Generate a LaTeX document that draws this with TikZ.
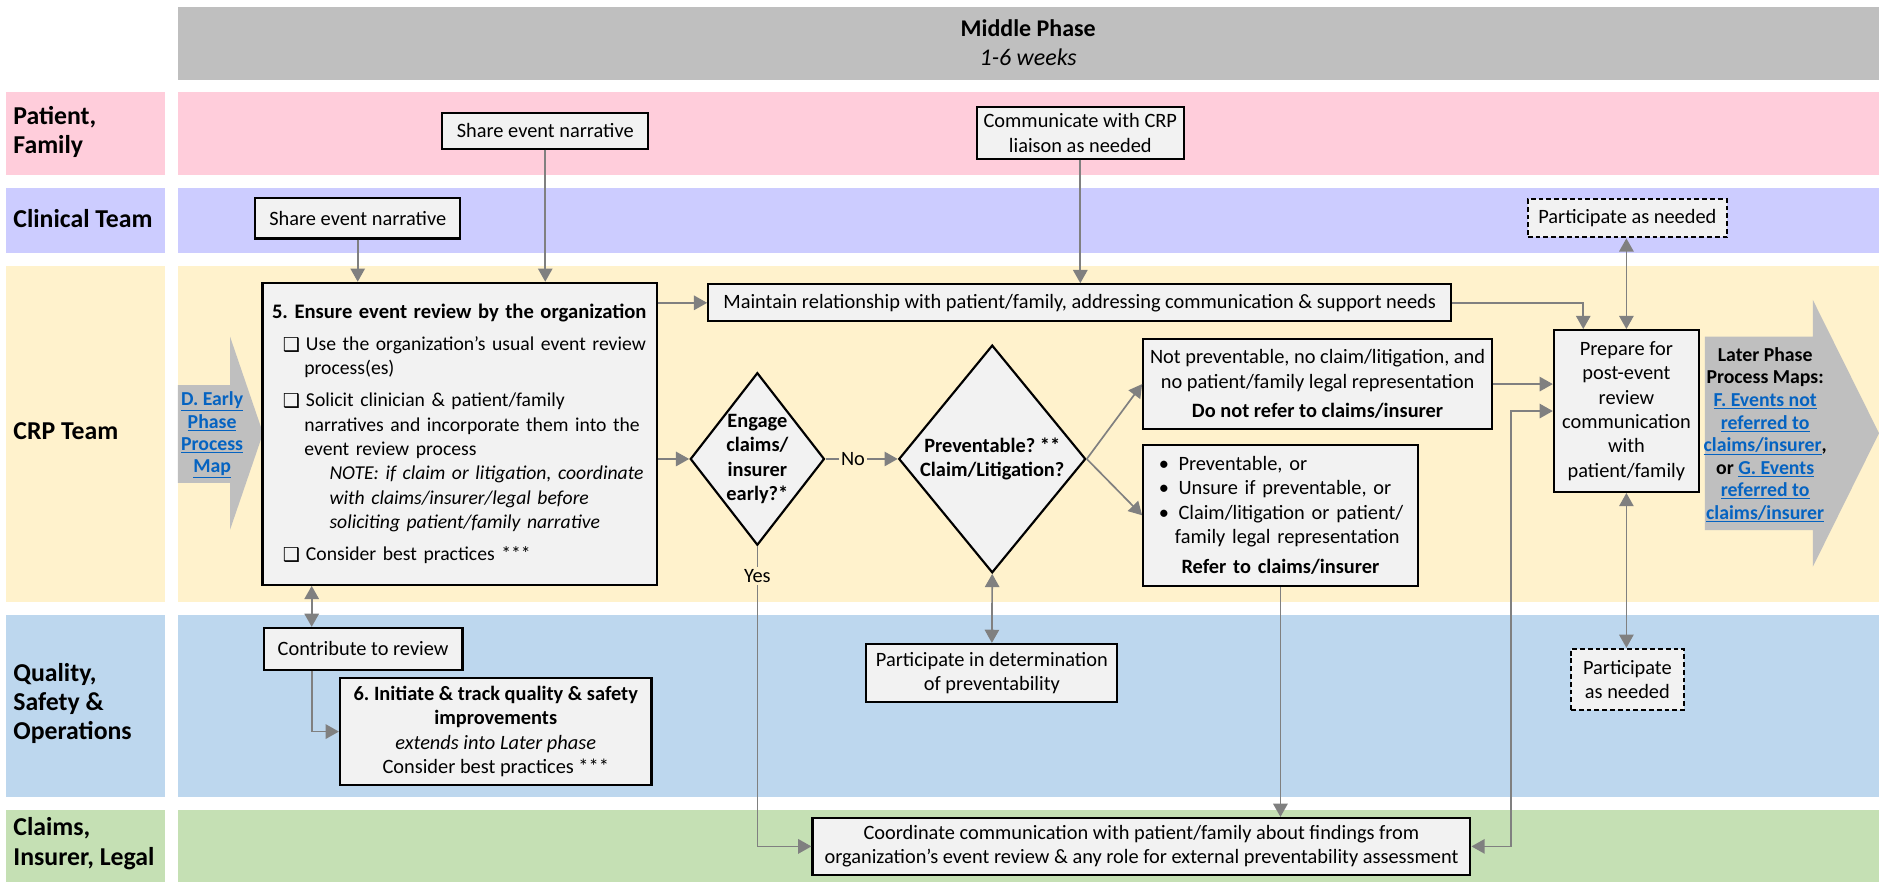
\documentclass[tikz,border=0pt]{standalone}
\usepackage{fontspec}
\setmainfont{Carlito}
\newfontfamily\djv{DejaVu Sans}
\usetikzlibrary{shapes.geometric,arrows.meta,calc}
\definecolor{pinklane}{HTML}{FFCDDB}
\definecolor{lavlane}{HTML}{CCCCFF}
\definecolor{yellane}{HTML}{FFF2CC}
\definecolor{bluelane}{HTML}{BDD7EE}
\definecolor{greenlane}{HTML}{C5E0B4}
\definecolor{hdrgray}{HTML}{BFBFBF}
\definecolor{boxfill}{HTML}{F2F2F2}
\definecolor{linkblue}{HTML}{0563C1}
\definecolor{conncol}{HTML}{808080}
\newcommand\lnk[1]{{\color{linkblue}\underline{#1}}}
\newcommand\cbx{\raisebox{-0.5pt}{\djv\fontsize{16}{16}\selectfont ❑}}
\newcommand\bodyfont{\fontsize{17}{20.3}\selectfont}
\frenchspacing
\begin{document}
\frenchspacing
\begin{tikzpicture}[x=1pt,y=-1pt,
  box/.style={draw=black, line width=1.8pt, fill=boxfill, align=center, inner sep=0pt, font=\bodyfont\frenchspacing},
  dbox/.style={box, dash pattern=on 4pt off 2.5pt},
  tip/.tip={Triangle[length=11pt,width=12pt]},
  conn/.style={draw=conncol, line width=1.4pt, -tip},
  conn2/.style={draw=conncol, line width=1.4pt, tip-tip},
  dec/.style={diamond, draw=black, line width=1.8pt, fill=boxfill, inner sep=0pt},
  declbl/.style={align=center, font=\fontsize{17}{20.3}\selectfont\bfseries\frenchspacing, inner sep=0pt},
  lanelabel/.style={align=left, anchor=west, font=\fontsize{21.5}{24.5}\selectfont\bfseries, inner sep=0pt},
  edgelbl/.style={fill=yellane, font=\bodyfont, inner sep=2pt},
  maptext/.style={align=center, font=\fontsize{16.5}{18.8}\selectfont\bfseries\frenchspacing, inner sep=0pt}
]
\useasboundingbox (0,0) rectangle (1568,736);

% header
\fill[hdrgray] (148.5,5.8) rectangle (1568,66.8);
\node[align=center, font=\fontsize{20}{24.2}\selectfont, inner sep=0pt] (hdr) at (858,36) {\textbf{Middle Phase}\\\textit{1-6 weeks}};

% lanes
\fill[pinklane] (5,77) rectangle (137.5,146);
\fill[pinklane] (148.5,77) rectangle (1568,146);
\fill[lavlane] (5,157) rectangle (137.5,211);
\fill[lavlane] (148.5,157) rectangle (1568,211);
\fill[yellane] (5,221.7) rectangle (137.5,502);
\fill[yellane] (148.5,221.7) rectangle (1568,502);
\fill[bluelane] (5,513) rectangle (137.5,665);
\fill[bluelane] (148.5,513) rectangle (1568,665);
\fill[greenlane] (5,676) rectangle (137.5,736);
\fill[greenlane] (148.5,676) rectangle (1568,736);

\node[lanelabel] (lpf) at (11,110) {Patient,\\Family};
\node[lanelabel] (lct) at (11,182) {Clinical Team};
\node[lanelabel] (lcrp) at (11,360) {CRP Team};
\node[lanelabel] (lqso) at (11,587) {Quality,\\Safety \&\\Operations};
\node[lanelabel] (lcil) at (11,704) {Claims,\\Insurer, Legal};

% process map arrows
\fill[hdrgray] (148.4,321.3) -- (192,321.3) -- (192,281) -- (219.5,361.5) -- (192,442) -- (192,403) -- (148.4,403) -- cycle;
\node[maptext, font=\fontsize{16.5}{18.6}\selectfont\bfseries\frenchspacing] (dmap) at (177,363) {\lnk{D. Early}\\\lnk{Phase}\\\lnk{Process}\\\lnk{Map}};
\fill[hdrgray] (1422.7,281) -- (1512.8,281) -- (1512.8,250.3) -- (1568,361.5) -- (1512.8,472.9) -- (1512.8,442.3) -- (1422.7,442.3) -- cycle;
\node[maptext] (later) at (1473,363) {Later Phase\\Process Maps:\\\lnk{F. Events not}\\\lnk{referred to}\\\lnk{claims/insurer},\\or \lnk{G. Events}\\\lnk{referred to}\\\lnk{claims/insurer}};

% nodes
\node[box, minimum width=172pt, minimum height=30pt] (pfshare) at (455,109) {Share event narrative};
\node[box, minimum width=173pt, minimum height=43pt] (pfcomm) at (901.5,111) {Communicate with CRP\\liaison as needed};
\node[box, minimum width=171pt, minimum height=34pt] (ctshare) at (298.5,182) {Share event narrative};
\node[dbox, minimum width=166pt, minimum height=32pt] (ctpart) at (1358,182) {Participate as needed};

\node[box, text width=313pt, inner xsep=8pt, minimum height=252pt, align=left, font=\fontsize{16.4}{20.3}\selectfont\frenchspacing] (r5) at (383.5,362) {%
\mbox{\fontsize{17.2}{20.3}\selectfont\textbf{5. Ensure event review by the organization}}\\[6.5pt]
\mbox{\hspace*{9pt}\cbx\hspace*{5pt}Use the organization’s usual event review}\\
\mbox{\hspace*{27pt}process(es)}\\[6.5pt]
\mbox{\hspace*{9pt}\cbx\hspace*{5pt}Solicit clinician \& patient/family}\\
\mbox{\hspace*{27pt}narratives and incorporate them into the}\\
\mbox{\hspace*{27pt}event review process}\\
\mbox{\hspace*{48pt}\textit{NOTE: if claim or litigation, coordinate}}\\
\mbox{\hspace*{48pt}\textit{with claims/insurer/legal before}}\\
\mbox{\hspace*{48pt}\textit{soliciting patient/family narrative}}\\[6.5pt]
\mbox{\hspace*{9pt}\cbx\hspace*{5pt}Consider best practices ***}};

\node[box, minimum width=620pt, minimum height=31pt] (maint) at (901,252.7) {Maintain relationship with patient/family, addressing communication \& support needs};

\node[dec, minimum width=112pt, minimum height=144pt,
  label={[declbl]center:{Engage\\claims/\\insurer\\early?*}}] (d1) at (632,383) {};
\node[dec, minimum width=156pt, minimum height=190pt,
  label={[declbl]center:{Preventable? **\\Claim/Litigation?}}] (d2) at (828,383) {};

\node[box, minimum width=291pt, minimum height=75pt] (notprev) at (1099.5,320.5) {Not preventable, no claim/litigation, and\\no patient/family legal representation\\[4pt]\textbf{Do not refer to claims/insurer}};
\node[box, text width=217pt, inner xsep=6pt, minimum height=118pt, align=left] (prev) at (1068.5,430) {%
\mbox{\hspace*{7pt}\textbullet\hspace*{8pt}Preventable, or}\\
\mbox{\hspace*{7pt}\textbullet\hspace*{8pt}Unsure if preventable, or}\\
\mbox{\hspace*{7pt}\textbullet\hspace*{8pt}Claim/litigation or patient/}\\
\mbox{\hspace*{20.5pt}family legal representation}\\[4.5pt]
\makebox[217pt]{\textbf{Refer to claims/insurer}}};

\node[box, minimum width=121pt, minimum height=135pt] (prep) at (1357.2,343) {Prepare for\\post-event\\review\\communication\\with\\patient/family};

\node[box, minimum width=166pt, minimum height=35pt] (contrib) at (303,541.5) {Contribute to review};
\node[box, minimum width=260pt, minimum height=89pt] (r6) at (413.7,610.5) {\textbf{6. Initiate \& track quality \& safety}\\\textbf{improvements}\\\textit{extends into Later phase}\\Consider best practices ***};
\node[box, minimum width=209.5pt, minimum height=48.6pt] (partdet) at (827.7,561.7) {Participate in determination\\of preventability};
\node[dbox, minimum width=94pt, minimum height=51pt] (qsopart) at (1358,567) {Participate\\as needed};

\node[box, minimum width=549pt, minimum height=47.4pt] (coord) at (952.5,706.3) {Coordinate communication with patient/family about findings from\\organization’s event review \& any role for external preventability assessment};

% connectors
\draw[conn] (pfshare.south) -- (pfshare.south |- r5.north);
\draw[conn] (ctshare.south) -- (ctshare.south |- r5.north);
\draw[conn] (pfcomm.south) -- (pfcomm.south |- maint.north);
\draw[conn] (r5.east |- maint.west) -- (maint.west);
\draw[conn] (r5.east |- d1.west) -- (d1.west);
\draw[conn] (d1.east) -- node[edgelbl, pos=0.38] (nolbl) {No} (d2.west);
\draw[conn] (d1.south) -- node[edgelbl, pos=0.1] (yeslbl) {Yes} (d1.south |- coord.west) -- (coord.west);
\draw[conn] (d2.east) -- (notprev.west);
\draw[conn] (d2.east) -- (prev.west);
\draw[conn2] (d2.south) -- (partdet.north);
\draw[conn2] ([xshift=41pt]contrib.north west) -- ([xshift=41pt]contrib.north west |- r5.south);
\draw[conn] ([xshift=41pt]contrib.south west) |- (r6.west);
\draw[conn] (maint.east) -| ([xshift=-36pt]prep.north);
\draw[conn] (notprev.east) -- (notprev.east -| prep.west);
\draw[conn2] (coord.east) -| ([xshift=-35pt]prep.west) -- (prep.west);
\draw[conn] (prev.south) -- (prev.south |- coord.north);
\draw[conn2] (prep.north) -- (prep.north |- ctpart.south);
\draw[conn2] (prep.south) -- (prep.south |- qsopart.north);
\end{tikzpicture}
\end{document}
